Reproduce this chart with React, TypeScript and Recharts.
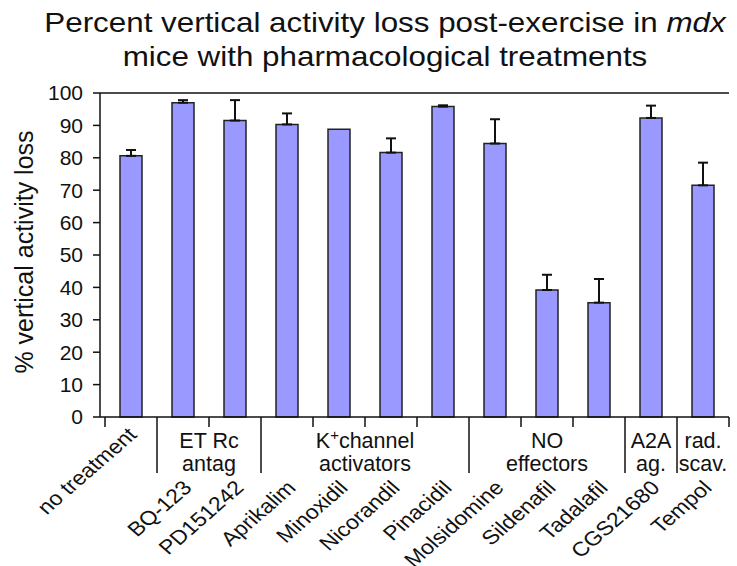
import React from 'react';
import { BarChart, Bar, XAxis, YAxis, ErrorBar, ReferenceLine } from 'recharts';

const categories = [
  'no treatment', 'BQ-123', 'PD151242', 'Aprikalim', 'Minoxidil', 'Nicorandil',
  'Pinacidil', 'Molsidomine', 'Sildenafil', 'Tadalafil', 'CGS21680', 'Tempol'
];
const lossValues = [80.6, 97.0, 91.5, 90.3, 88.8, 81.6, 95.8, 84.4, 39.2, 35.3, 92.3, 71.5];
const errorValues = [1.8, 0.8, 6.3, 3.4, 0, 4.4, 0.4, 7.5, 4.7, 7.3, 3.8, 7.0];
const yTicks = [0, 10, 20, 30, 40, 50, 60, 70, 80, 90, 100];

// treatment groups under the axis
const groupLabels = [['ET Rc', 'antag'], ['K+channel', 'activators'], ['NO', 'effectors'], ['A2A', 'ag.'], ['rad.', 'scav.']];
const groupStarts = [1, 3, 7, 10, 11];
const groupSizes = [2, 4, 3, 1, 1];

const data = categories.map((name, i) => ({
  name,
  loss: lossValues[i],
  err: errorValues[i] > 0 ? [0, errorValues[i]] : null
}));

const FONT = '"Liberation Sans", Arial, Helvetica, sans-serif';

function GroupLine({ text, x, y }: { text: string; x: number; y: number }) {
  if (text.startsWith('K+')) {
    return (
      <text x={x} y={y} textAnchor="middle" fontSize={21.5} fill="#111" fontFamily={FONT}>
        <tspan>K</tspan>
        <tspan dy={-8} fontSize={15}>+</tspan>
        <tspan dy={8}>{text.slice(2)}</tspan>
      </text>
    );
  }
  return (
    <text x={x} y={y} textAnchor="middle" fontSize={21.5} fill="#111" fontFamily={FONT}>
      {text}
    </text>
  );
}

function XTick(props: any) {
  const { x, y, payload } = props;
  const index = payload.index ?? props.index;
  const half = payload.offset || 26;
  const left = x - half;
  const g = groupStarts.indexOf(index);
  const first = index === 0;
  return (
    <g>
      <line x1={left} y1={y} x2={left} y2={y + (g >= 0 ? 56 : 10)} stroke="#111" strokeWidth={1.5} />
      {index === categories.length - 1 && (
        <line x1={x + half} y1={y} x2={x + half} y2={y + 10} stroke="#111" strokeWidth={1.5} />
      )}
      {g >= 0 && (
        <>
          <GroupLine text={groupLabels[g][0]} x={left + groupSizes[g] * half} y={y + 31} />
          <GroupLine text={groupLabels[g][1]} x={left + groupSizes[g] * half} y={y + 54} />
        </>
      )}
      <text
        transform={`translate(${x + (first ? 7 : 10)},${y + (first ? 19 : 72)}) scale(1.15,1) rotate(-45)`}
        textAnchor="end"
        fontSize={20}
        fill="#111"
        fontFamily={FONT}
      >
        {payload.value}
      </text>
    </g>
  );
}

function YLabel(props: any) {
  const { viewBox } = props;
  const cx = viewBox.x + 33;
  const cy = viewBox.y + viewBox.height / 2 - 3;
  return (
    <text
      transform={`translate(${cx},${cy}) rotate(-90)`}
      textAnchor="middle"
      fontSize={25}
      fill="#111"
      fontFamily={FONT}
    >
      % vertical activity loss
    </text>
  );
}

export default function App() {
  return (
    <div style={{ position: 'absolute', left: 0, top: 0, width: 737, height: 566, background: '#fff', fontFamily: FONT }}>
      <div
        style={{
          position: 'absolute', left: 0, top: 6, width: 770, textAlign: 'center',
          fontSize: 28, lineHeight: '34px', color: '#111',
          transform: 'scaleX(1.12)', transformOrigin: '385px 0'
        }}
      >
        Percent vertical activity loss post-exercise in <i>mdx</i>
        <br />
        mice with pharmacological treatments
      </div>
      <BarChart
        width={737}
        height={566}
        data={data}
        margin={{ top: 93, right: 8, bottom: 0, left: 0 }}
      >
        <XAxis
          dataKey="name"
          interval={0}
          tickLine={false}
          tickSize={0}
          tickMargin={0}
          padding={{ left: 5, right: 0 }}
          height={149}
          axisLine={{ stroke: '#111', strokeWidth: 1.5 }}
          tick={<XTick />}
        />
        <YAxis
          yAxisId="l"
          domain={[0, 100]}
          ticks={yTicks}
          interval={0}
          width={100}
          tickSize={7}
          tickMargin={10}
          axisLine={{ stroke: '#111', strokeWidth: 1.5 }}
          tickLine={{ stroke: '#111', strokeWidth: 1.5 }}
          tick={{ fill: '#111', fontSize: 21, fontFamily: FONT }}
          label={<YLabel />}
        />
        <YAxis
          yAxisId="r"
          orientation="right"
          domain={[0, 100]}
          width={0}
          tick={false}
          tickLine={false}
          axisLine={{ stroke: '#111', strokeWidth: 1.5 }}
        />
        <ReferenceLine yAxisId="l" y={100} stroke="#111" strokeWidth={1.5} />
        <Bar
          yAxisId="l"
          dataKey="loss"
          barSize={22}
          fill="#9999ff"
          stroke="#222"
          strokeWidth={1.5}
          isAnimationActive={false}
        >
          <ErrorBar dataKey="err" width={5} stroke="#111" strokeWidth={2} direction="y" />
        </Bar>
      </BarChart>
    </div>
  );
}
